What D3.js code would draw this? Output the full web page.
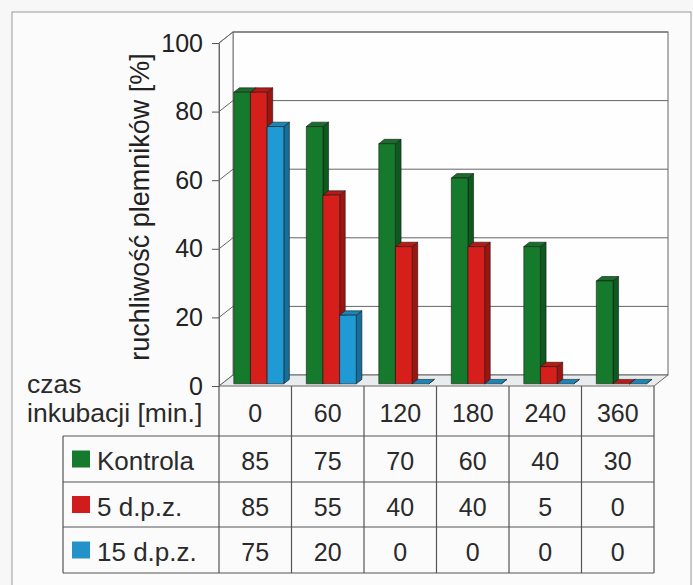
<!DOCTYPE html>
<html><head><meta charset="utf-8">
<script src="https://cdn.jsdelivr.net/npm/d3@7"></script>
<style>
html,body{margin:0;padding:0;background:#f7f7f7;}
svg{display:block;font-family:"Liberation Sans",Arial,sans-serif;}
</style></head>
<body><svg id="c" width="693" height="585"></svg>
<script>
const categories = ["0","60","120","180","240","360"];
const seriesNames = ["Kontrola","5 d.p.z.","15 d.p.z."];
const kontrola = [85,75,70,60,40,30];
const dpz5 = [85,55,40,40,5,0];
const dpz15 = [75,20,0,0,0,0];
const yTicks = [0,20,40,60,80,100];
const yTitle = "ruchliwość plemników [%]";
const xTitle1 = "czas", xTitle2 = "inkubacji [min.]";

const seriesValues = [kontrola, dpz5, dpz15];
const colors = {
  front: ["#167a2c","#d61f1a","#1f9ad4"],
  side:  ["#0c5a1e","#a0140f","#156f9c"],
  top:   ["#1a6e2c","#b81a15","#1a86b8"],
  legend:["#157a2c","#d01c1c","#2292c8"]
};

const svg = d3.select("#c");
svg.append("rect").attr("x",12).attr("y",12).attr("width",679).attr("height",590)
  .attr("fill","#fbfbfb").attr("stroke","#9a9a9a").attr("stroke-width",1);

const x = d3.scaleBand().domain(categories).range([219,654]);
const xs = d3.scaleBand().domain(seriesNames).range([12,62]);
const y = d3.scaleLinear().domain([0,100]).range([386,43]);
const DX = 14, DY = -11;
const P = (px,py,d)=>[px+DX*d, py+DY*d];
const poly = pts => pts.map(p=>p.join(",")).join(" ");

const g = svg.append("g");
const x0 = x.range()[0], x1 = x.range()[1];
g.append("rect").attr("x",x0+DX).attr("y",y(100)+DY).attr("width",x1-x0).attr("height",y(0)-y(100))
  .attr("fill","#fefefe").attr("stroke","#666").attr("stroke-width",1);
g.append("polygon").attr("points",poly([[x0,y(100)],P(x0,y(100),1),P(x0,y(0),1),[x0,y(0)]]))
  .attr("fill","#fcfcfc").attr("stroke","#777").attr("stroke-width",1);
g.append("polygon").attr("points",poly([[x0,y(0)],[x1,y(0)],P(x1,y(0),1),P(x0,y(0),1)]))
  .attr("fill","#e9ecef").attr("stroke","#666").attr("stroke-width",1);
yTicks.filter(t=>t>0).forEach(t=>{
  const a=[x0,y(t)], b=P(x0,y(t),1), c=P(x1,y(t),1);
  g.append("polyline").attr("points",poly([a,b,c])).attr("fill","none")
   .attr("stroke","#666").attr("stroke-width",1);
});

const ax = svg.append("g").attr("transform",`translate(${x0},0)`)
  .call(d3.axisLeft(y).tickValues(yTicks).tickSize(7).tickSizeOuter(0).tickPadding(9));
ax.select(".domain").attr("stroke","#666");
ax.selectAll(".tick line").attr("stroke","#555");
ax.selectAll("text").attr("font-size",25).attr("fill","#222").attr("font-family","Liberation Sans, Arial, sans-serif");

const dF=0.2, dB=0.6;
categories.forEach((cat,i)=>{
  seriesNames.forEach((s,j)=>{
    const v = seriesValues[j][i];
    const bx = x(cat)+xs(s), bw = xs.bandwidth();
    const yt = y(v), yb = y(0);
    const fl=P(bx,yt,dF), fr=P(bx+bw,yt,dF), fbr=P(bx+bw,yb,dF), fbl=P(bx,yb,dF);
    const bl=P(bx,yt,dB), br=P(bx+bw,yt,dB), bbr=P(bx+bw,yb,dB);
    const bg = g.append("g").attr("stroke","#1a1a1a").attr("stroke-width",0.6).attr("stroke-linejoin","round");
    bg.append("polygon").attr("points",poly([fr,br,bbr,fbr])).attr("fill",colors.side[j]);
    bg.append("polygon").attr("points",poly([fl,bl,br,fr])).attr("fill",colors.top[j]);
    if(v>0) bg.append("polygon").attr("points",poly([fl,fr,fbr,fbl])).attr("fill",colors.front[j]);
  });
});

svg.append("text").attr("transform","translate(149,207) rotate(-90)")
  .attr("text-anchor","middle").attr("font-size",27).attr("fill","#222").text(yTitle);

const T = svg.append("g").attr("stroke","#555").attr("stroke-width",1.2);
const rowY = [386,436,482,527,573];
[1,2,3,4].forEach(k=>T.append("line").attr("x1",63).attr("x2",x1).attr("y1",rowY[k]).attr("y2",rowY[k]));
T.append("line").attr("x1",63).attr("x2",63).attr("y1",rowY[1]).attr("y2",rowY[4]);
categories.forEach(c=>T.append("line").attr("x1",x(c)).attr("x2",x(c)).attr("y1",rowY[0]).attr("y2",rowY[4]));
T.append("line").attr("x1",x1).attr("x2",x1).attr("y1",rowY[0]).attr("y2",rowY[4]);

const txt = svg.append("g").attr("font-size",25).attr("fill","#2a2a2a");
categories.forEach(c=>txt.append("text").attr("x",x(c)+x.bandwidth()/2).attr("y",422)
  .attr("text-anchor","middle").text(c));
seriesNames.forEach((s,j)=>{
  const cy = (rowY[j+1]+rowY[j+2])/2;
  svg.append("rect").attr("x",72).attr("y",cy-8.5).attr("width",18).attr("height",17).attr("fill",colors.legend[j]);
  txt.append("text").attr("x",97).attr("y",cy+11).attr("font-size",26).text(s);
  categories.forEach((c,i)=>txt.append("text").attr("x",x(c)+x.bandwidth()/2).attr("y",cy+11)
    .attr("text-anchor","middle").text(seriesValues[j][i]));
});
txt.append("text").attr("x",27).attr("y",393).attr("font-size",26.5).text(xTitle1);
txt.append("text").attr("x",27).attr("y",422).attr("font-size",26.5).text(xTitle2);
</script></body></html>
